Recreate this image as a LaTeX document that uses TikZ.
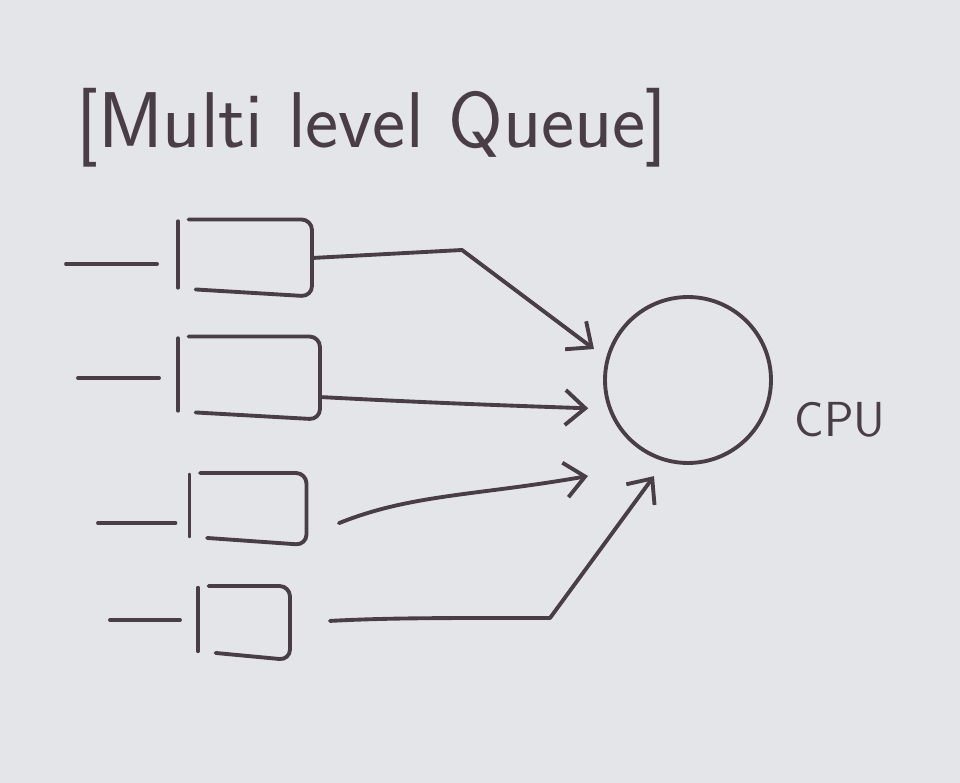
\documentclass[tikz,border=0pt]{standalone}
\usetikzlibrary{arrows.meta, positioning, calc}
\definecolor{ink}{HTML}{4A3E46}
\definecolor{paper}{HTML}{E4E5E8}
\tikzset{
  pen/.style={draw=ink, line width=2.2pt, line cap=round, line join=round},
  que/.style={inner sep=0pt, outer sep=0pt},
  tra/.style={pen, -{Straight Barb[length=4mm, width=7mm]}},
  lab/.style={text=ink, font=\sffamily}
}
% queue box: separate left bar and a right bracket
\newcommand{\qshape}[1]{%
  \draw[pen] ([yshift=-1pt]#1.north west) -- ([yshift=5pt]#1.south west);
  \draw[pen, rounded corners=6pt] ([xshift=6pt]#1.north west) -- (#1.north east) -- (#1.south east) -- ([xshift=10pt,yshift=4pt]#1.south west);}

\begin{document}
\begin{tikzpicture}[x=0.02cm, y=0.02cm]
		\fill[paper] (0,0) rectangle (960,-783);
		\useasboundingbox (0,0) rectangle (960,-783);
		\node[lab, font=\sffamily\fontsize{45}{52}\selectfont] (title) at (372,-128) {[Multi level Queue]};
		\node[que, minimum width=2.68cm, minimum height=1.54cm] (q1) at (245,-258) {};
		\node[que, minimum width=2.84cm, minimum height=1.66cm] (q2) at (249,-378) {};
		\node[que, minimum width=2.34cm, minimum height=1.44cm] (q3) at (248,-509) {};
		\node[que, minimum width=1.84cm, minimum height=1.48cm] (q4) at (244,-623) {};
		\node[pen, circle, minimum size=3.32cm] (cpu) at (688,-380) {};
		\node[lab, font=\sffamily\fontsize{28}{32}\selectfont] (cpul) at (840,-420) {CPU};
		\qshape{q1}
		\qshape{q2}
		\qshape{q3}
		\qshape{q4}
		% incoming lines
		\coordinate (in1) at (66,-264);
		\coordinate (in2) at (78,-378);
		\coordinate (in3) at (98,-523);
		\coordinate (in4) at (110,-620);
		\draw[pen, shorten >=0.42cm] (in1) -- (in1 -| q1.west);
		\draw[pen, shorten >=0.38cm] (in2) -- (in2 -| q2.west);
		\draw[pen, shorten >=0.28cm] (in3) -- (in3 -| q3.west);
		\draw[pen, shorten >=0.36cm] (in4) -- (in4 -| q4.west);
		% to the cpu
		\coordinate (k1) at (462,-250);
		\coordinate (k4) at (550,-618);
		\coordinate (t3) at (588,-476);
		\draw[tra, shorten >=0.3cm] (q1.east) -- (k1) -- (cpu.165);
		\draw[tra, shorten <=0.05cm, shorten >=0.4cm] (q2.345) to[out=-3, in=178] (cpu.200);
		\draw[tra, shorten <=0.7cm] (q3.335) to[out=22, in=190] (t3);
		\draw[tra, shorten <=0.8cm, shorten >=0.36cm] (q4.east) to[out=3, in=180] (k4) -- (cpu.254);
	\end{tikzpicture}
\end{document}
